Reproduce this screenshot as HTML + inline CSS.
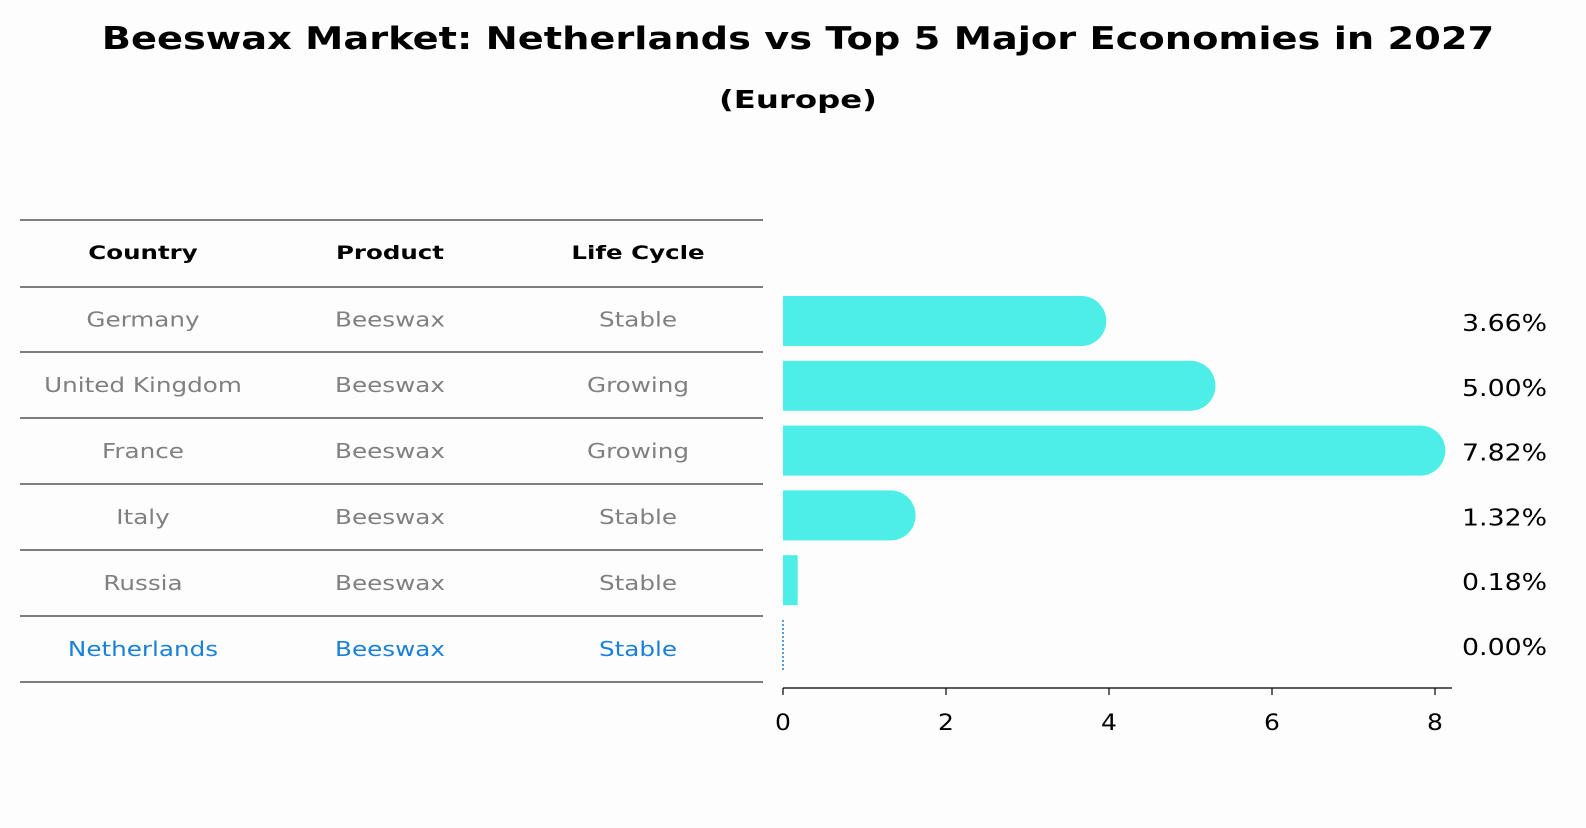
<!DOCTYPE html>
<html><head><meta charset="utf-8"><style>
body{margin:0;background:#fdfdfd;width:1586px;height:823px;overflow:hidden;font-family:"Liberation Sans","DejaVu Sans",sans-serif}
</style></head><body>
<svg id="c" width="1586" height="823" font-family="DejaVu Sans, Liberation Sans, sans-serif">
<text id="ttl" x="798" y="48" text-anchor="middle" font-size="26" font-weight="bold">Beeswax Market: Netherlands vs Top 5 Major Economies in 2027</text>
<text id="sub" x="798" y="108" text-anchor="middle" font-size="21" font-weight="bold">(Europe)</text>
<g id="tbl"></g>
<g id="bars"></g>
</svg>
<script>
const countries=["Germany","United Kingdom","France","Italy","Russia","Netherlands"];
const products=["Beeswax","Beeswax","Beeswax","Beeswax","Beeswax","Beeswax"];
const lifeCycles=["Stable","Growing","Growing","Stable","Stable","Stable"];
const values=[3.66,5.00,7.82,1.32,0.18,0.00];
const valueLabels=["3.66%","5.00%","7.82%","1.32%","0.18%","0.00%"];
const ticks=[0,2,4,6,8];
const NS="http://www.w3.org/2000/svg";
function mk(tag,attrs,parent,text){const e=document.createElementNS(NS,tag);for(const k in attrs)e.setAttribute(k,attrs[k]);if(text!==undefined)e.textContent=text;parent.appendChild(e);return e;}
function widen(el,k,fs){const w=el.getComputedTextLength();el.setAttribute('font-size',fs);el.setAttribute('textLength',w*k);el.setAttribute('lengthAdjust','spacingAndGlyphs');}
const x=v=>783+v*81.5;
const rowY=i=>321+i*64.8;
const tbl=document.getElementById('tbl'),bars=document.getElementById('bars');
widen(document.getElementById('ttl'),1.475,31);
widen(document.getElementById('sub'),1.54,25);
document.getElementById('ttl').setAttribute('y',49);
document.getElementById('sub').setAttribute('y',108);
const lineYs=[220,287,352,418,484,550,616,682];
lineYs.forEach(y=>{const l=mk('line',{x1:20,x2:763,y1:y,y2:y,stroke:'#000','stroke-width':1},tbl);

});
const colX=[143,390,638];
["Country","Product","Life Cycle"].forEach((h,j)=>{const t=mk('text',{x:colX[j],y:259,'text-anchor':'middle','font-size':16,'font-weight':'bold'},tbl,h);


widen(t,1.53,19);});
countries.forEach((c,i)=>{
  const cy=(lineYs[i+1]+lineYs[i+2])/2+7;
  const col=c==="Netherlands"?'#1a80d9':'#808080';
  [c,products[i],lifeCycles[i]].forEach((v,j)=>{const t=mk('text',{x:colX[j],y:cy,'text-anchor':'middle','font-size':16,fill:col},tbl,v);
  
  
  widen(t,1.54,20);});
  const y=rowY(i);
  if(values[i]>0){
    const g=mk('g',{fill:'#4deee8'},bars);
    
    
    const w=x(values[i])-x(0);
    mk('rect',{x:x(0),y:y-25,width:w,height:50},g);
    if(w>50) mk('circle',{cx:x(values[i]),cy:y,r:25},g);
  } else {
    const l=mk('line',{x1:x(0),x2:x(0),y1:y-25,y2:y+25,stroke:'#1a80d9','stroke-width':1.5,'stroke-dasharray':'2,2'},bars);
    
    
  }
  const t=mk('text',{x:1462,y:y+10,'font-size':20},bars,valueLabels[i]);
  
  
  widen(t,1.34,23);
});
const ax=mk('line',{x1:783,x2:1452,y1:688,y2:688,stroke:'#000','stroke-width':1.2},bars);


ticks.forEach(t=>{
  const l=mk('line',{x1:x(t),x2:x(t),y1:688,y2:695,stroke:'#000','stroke-width':1.2},bars);
  
  
  const s=mk('text',{x:x(t),y:730,'text-anchor':'middle','font-size':20},bars,String(t));
  
  
  widen(s,1.25,22);
});
</script>
</body></html>
